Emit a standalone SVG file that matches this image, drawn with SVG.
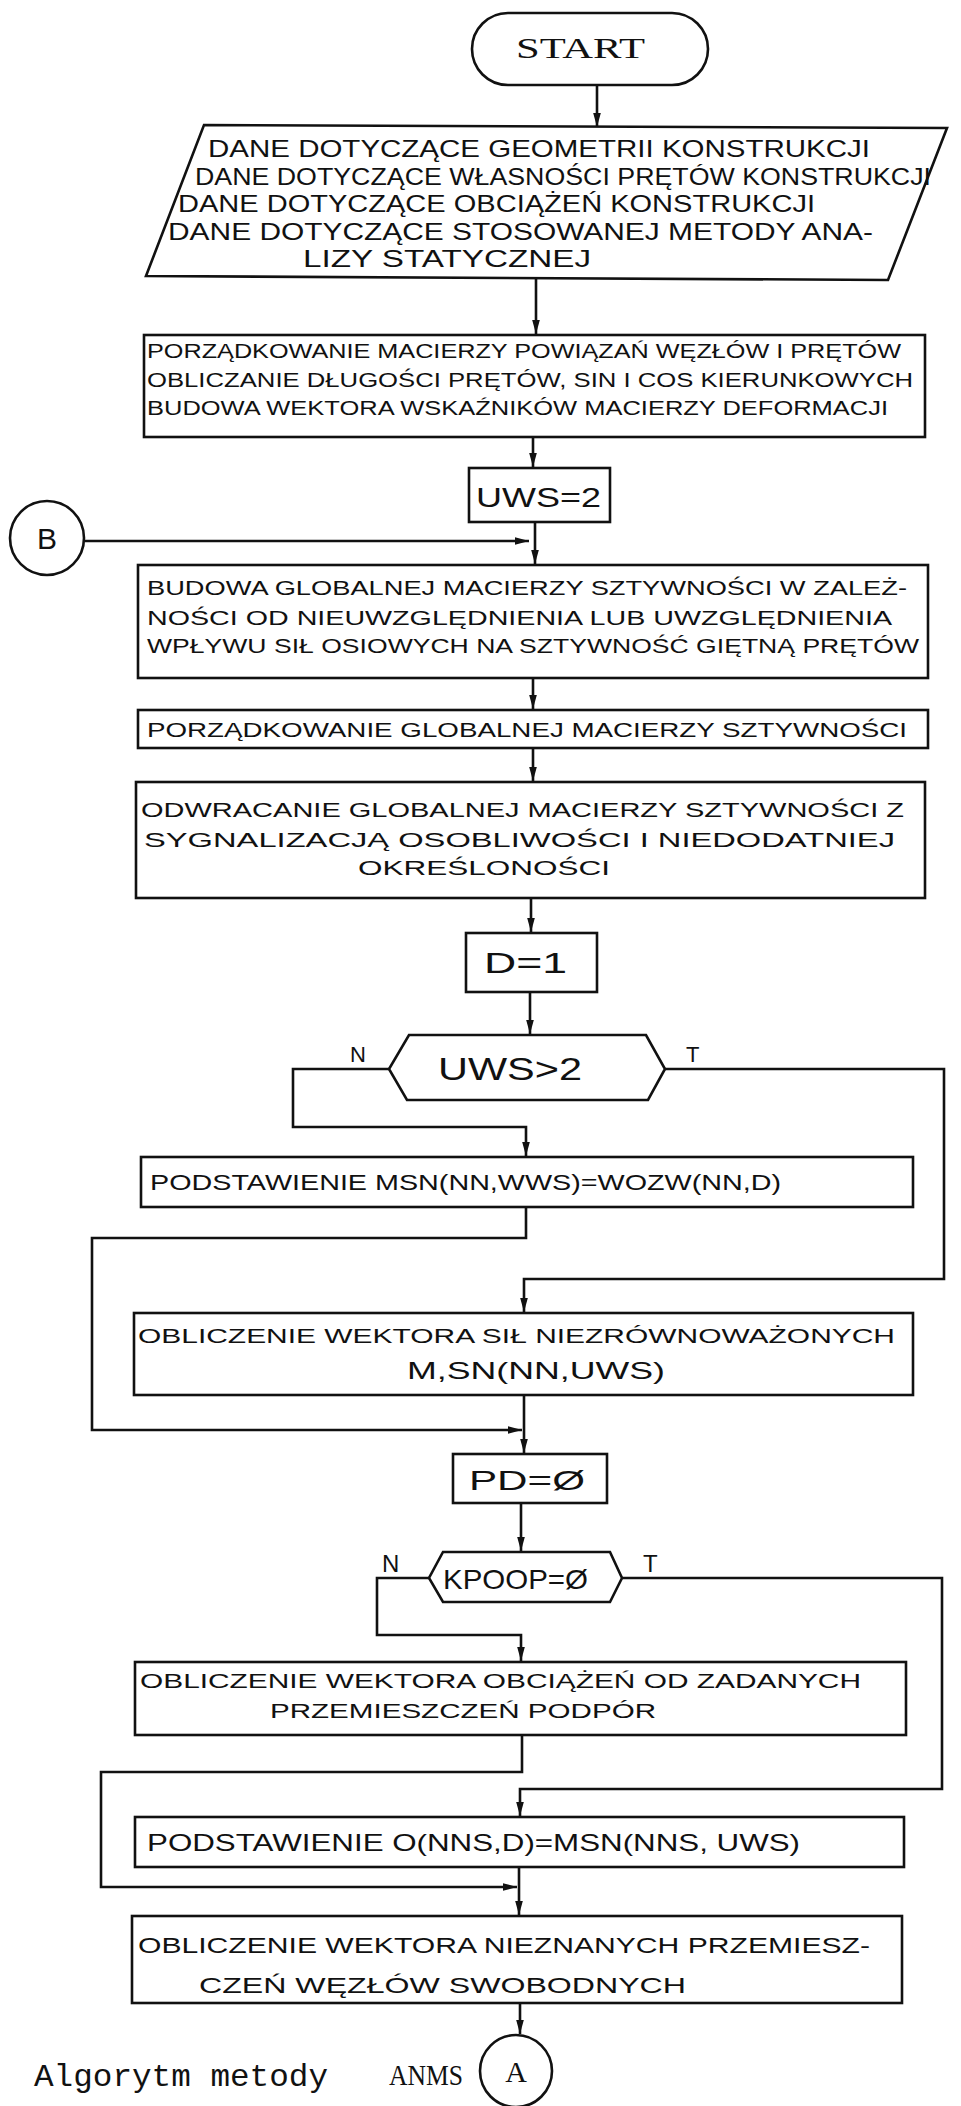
<svg xmlns="http://www.w3.org/2000/svg" width="961" height="2106" viewBox="0 0 961 2106">
<style>
.s{fill:#fff;stroke:#111;stroke-width:2.6}
.c{fill:none;stroke:#111;stroke-width:2.6}
.t{font-family:"Liberation Sans",Arial,sans-serif;fill:#111}
.f{font-family:"Liberation Serif","Times New Roman",serif;fill:#111}
.m{font-family:"Liberation Mono","Courier New",monospace;fill:#111}
</style>
<defs>
<marker id="ah" markerUnits="userSpaceOnUse" markerWidth="14" markerHeight="22" viewBox="0 0 22 14" refX="22" refY="7" orient="auto">
<path d="M0,1 L22,7 L0,13 Z" fill="#111"/>
</marker>
</defs>
<rect width="961" height="2106" fill="#fff"/>

<g id="connectors">
<line class="c" x1="597" y1="85" x2="597" y2="127" marker-end="url(#ah)"/>
<line class="c" x1="536" y1="278" x2="536" y2="334" marker-end="url(#ah)"/>
<line class="c" x1="533" y1="437" x2="533" y2="467" marker-end="url(#ah)"/>
<line class="c" x1="535" y1="522" x2="535" y2="564" marker-end="url(#ah)"/>
<line class="c" x1="85" y1="541" x2="529" y2="541" marker-end="url(#ah)"/>
<line class="c" x1="533" y1="678" x2="533" y2="709" marker-end="url(#ah)"/>
<line class="c" x1="533" y1="748" x2="533" y2="781" marker-end="url(#ah)"/>
<line class="c" x1="531" y1="898" x2="531" y2="932" marker-end="url(#ah)"/>
<line class="c" x1="530" y1="992" x2="530" y2="1034" marker-end="url(#ah)"/>
<polyline class="c" points="389,1069 293,1069 293,1127 526,1127 526,1156" marker-end="url(#ah)"/>
<polyline class="c" points="665,1069 944,1069 944,1279 524,1279 524,1312" marker-end="url(#ah)"/>
<polyline class="c" points="526,1207 526,1238 92,1238 92,1430 522,1430" marker-end="url(#ah)"/>
<line class="c" x1="524" y1="1395" x2="524" y2="1453" marker-end="url(#ah)"/>
<line class="c" x1="521" y1="1503" x2="521" y2="1551" marker-end="url(#ah)"/>
<polyline class="c" points="429,1578 377,1578 377,1635 521,1635 521,1661" marker-end="url(#ah)"/>
<polyline class="c" points="622,1578 942,1578 942,1789 520,1789 520,1816" marker-end="url(#ah)"/>
<polyline class="c" points="522,1735 522,1772 101,1772 101,1887 517,1887" marker-end="url(#ah)"/>
<line class="c" x1="519" y1="1867" x2="519" y2="1915" marker-end="url(#ah)"/>
<line class="c" x1="520" y1="2003" x2="520" y2="2034" marker-end="url(#ah)"/>
</g>

<g id="start">
<rect class="s" x="472" y="13" width="236" height="72" rx="36"/>
<text class="f" x="516" y="58" font-size="30" textLength="129" lengthAdjust="spacingAndGlyphs">START</text>
</g>

<g id="input">
<polygon class="s" points="204,125 947,128 888,280 146,276"/>
<text class="t" font-size="24" x="208" y="157" textLength="662" lengthAdjust="spacingAndGlyphs">DANE DOTYCZĄCE GEOMETRII KONSTRUKCJI</text>
<text class="t" font-size="24" x="195" y="185" textLength="736" lengthAdjust="spacingAndGlyphs">DANE DOTYCZĄCE WŁASNOŚCI PRĘTÓW KONSTRUKCJI</text>
<text class="t" font-size="24" x="178" y="212" textLength="637" lengthAdjust="spacingAndGlyphs">DANE DOTYCZĄCE OBCIĄŻEŃ KONSTRUKCJI</text>
<text class="t" font-size="24" x="168" y="240" textLength="705" lengthAdjust="spacingAndGlyphs">DANE DOTYCZĄCE STOSOWANEJ METODY ANA-</text>
<text class="t" font-size="24" x="303" y="267" textLength="288" lengthAdjust="spacingAndGlyphs">LIZY STATYCZNEJ</text>
</g>

<g id="porzadkowanie">
<rect class="s" x="144" y="335" width="781" height="102"/>
<text class="t" font-size="20" x="147" y="358" textLength="754" lengthAdjust="spacingAndGlyphs">PORZĄDKOWANIE MACIERZY POWIĄZAŃ WĘZŁÓW I PRĘTÓW</text>
<text class="t" font-size="20" x="147" y="387" textLength="766" lengthAdjust="spacingAndGlyphs">OBLICZANIE DŁUGOŚCI PRĘTÓW, SIN I COS KIERUNKOWYCH</text>
<text class="t" font-size="20" x="147" y="415" textLength="741" lengthAdjust="spacingAndGlyphs">BUDOWA WEKTORA WSKAŹNIKÓW MACIERZY DEFORMACJI</text>
</g>

<g id="uws2">
<rect class="s" x="469" y="468" width="141" height="54"/>
<text class="t" font-size="28" x="476" y="507" textLength="125" lengthAdjust="spacingAndGlyphs">UWS=2</text>
</g>

<g id="connB">
<circle class="s" cx="47" cy="538" r="37"/>
<text class="t" font-size="30" x="47" y="549" text-anchor="middle">B</text>
</g>

<g id="budowa">
<rect class="s" x="138" y="565" width="790" height="113"/>
<text class="t" font-size="21" x="147" y="595" textLength="760" lengthAdjust="spacingAndGlyphs">BUDOWA GLOBALNEJ MACIERZY SZTYWNOŚCI W ZALEŻ-</text>
<text class="t" font-size="21" x="147" y="625" textLength="745" lengthAdjust="spacingAndGlyphs">NOŚCI OD NIEUWZGLĘDNIENIA LUB UWZGLĘDNIENIA</text>
<text class="t" font-size="21" x="147" y="653" textLength="772" lengthAdjust="spacingAndGlyphs">WPŁYWU SIŁ OSIOWYCH NA SZTYWNOŚĆ GIĘTNĄ PRĘTÓW</text>
</g>

<g id="porzglob">
<rect class="s" x="138" y="710" width="790" height="38"/>
<text class="t" font-size="21" x="147" y="737" textLength="760" lengthAdjust="spacingAndGlyphs">PORZĄDKOWANIE GLOBALNEJ MACIERZY SZTYWNOŚCI</text>
</g>

<g id="odwracanie">
<rect class="s" x="136" y="782" width="789" height="116"/>
<text class="t" font-size="21" x="141" y="817" textLength="763" lengthAdjust="spacingAndGlyphs">ODWRACANIE GLOBALNEJ MACIERZY SZTYWNOŚCI Z</text>
<text class="t" font-size="21" x="144" y="847" textLength="751" lengthAdjust="spacingAndGlyphs">SYGNALIZACJĄ OSOBLIWOŚCI I NIEDODATNIEJ</text>
<text class="t" font-size="21" x="358" y="875" textLength="252" lengthAdjust="spacingAndGlyphs">OKREŚLONOŚCI</text>
</g>

<g id="d1">
<rect class="s" x="466" y="933" width="131" height="59"/>
<text class="t" font-size="30" x="484" y="973" textLength="83" lengthAdjust="spacingAndGlyphs">D=1</text>
</g>

<g id="dec1">
<polygon class="s" points="409,1035 646,1035 665,1069 648,1100 407,1100 389,1069"/>
<text class="t" font-size="32" x="438" y="1080" textLength="144" lengthAdjust="spacingAndGlyphs">UWS&gt;2</text>
<text class="t" font-size="22" x="350" y="1062">N</text>
<text class="t" font-size="22" x="686" y="1062">T</text>
</g>

<g id="podst1">
<rect class="s" x="141" y="1157" width="772" height="50"/>
<text class="t" font-size="22" x="150" y="1190" textLength="631" lengthAdjust="spacingAndGlyphs">PODSTAWIENIE MSN(NN,WWS)=WOZW(NN,D)</text>
</g>

<g id="oblsil">
<rect class="s" x="134" y="1313" width="779" height="82"/>
<text class="t" font-size="21" x="138" y="1343" textLength="757" lengthAdjust="spacingAndGlyphs">OBLICZENIE WEKTORA SIŁ NIEZRÓWNOWAŻONYCH</text>
<text class="t" font-size="24" x="407" y="1379" textLength="258" lengthAdjust="spacingAndGlyphs">M,SN(NN,UWS)</text>
</g>

<g id="pd0">
<rect class="s" x="453" y="1454" width="154" height="49"/>
<text class="t" font-size="28" x="469" y="1490" textLength="116" lengthAdjust="spacingAndGlyphs">PD=Ø</text>
</g>

<g id="dec2">
<polygon class="s" points="443,1552 610,1552 622,1578 610,1602 443,1602 429,1578"/>
<text class="t" font-size="28" x="443" y="1589" textLength="145" lengthAdjust="spacingAndGlyphs">KPOOP=Ø</text>
<text class="t" font-size="24" x="382" y="1572">N</text>
<text class="t" font-size="24" x="643" y="1572">T</text>
</g>

<g id="oblobc">
<rect class="s" x="135" y="1662" width="771" height="73"/>
<text class="t" font-size="21" x="140" y="1688" textLength="721" lengthAdjust="spacingAndGlyphs">OBLICZENIE WEKTORA OBCIĄŻEŃ OD ZADANYCH</text>
<text class="t" font-size="21" x="270" y="1718" textLength="386" lengthAdjust="spacingAndGlyphs">PRZEMIESZCZEŃ PODPÓR</text>
</g>

<g id="podst2">
<rect class="s" x="135" y="1817" width="769" height="50"/>
<text class="t" font-size="24" x="147" y="1851" textLength="653" lengthAdjust="spacingAndGlyphs">PODSTAWIENIE O(NNS,D)=MSN(NNS, UWS)</text>
</g>

<g id="oblprz">
<rect class="s" x="132" y="1916" width="770" height="87"/>
<text class="t" font-size="22" x="138" y="1953" textLength="732" lengthAdjust="spacingAndGlyphs">OBLICZENIE WEKTORA NIEZNANYCH PRZEMIESZ-</text>
<text class="t" font-size="22" x="199" y="1993" textLength="487" lengthAdjust="spacingAndGlyphs">CZEŃ WĘZŁÓW SWOBODNYCH</text>
</g>

<g id="connA">
<circle class="s" cx="516" cy="2071" r="36"/>
<text class="f" font-size="30" x="516" y="2082" text-anchor="middle">A</text>
</g>

<g id="caption">
<text class="m" font-size="32" x="34" y="2086" textLength="294" lengthAdjust="spacingAndGlyphs">Algorytm metody</text>
<text class="f" font-size="30" x="389" y="2085" textLength="74" lengthAdjust="spacingAndGlyphs">ANMS</text>
</g>
</svg>
